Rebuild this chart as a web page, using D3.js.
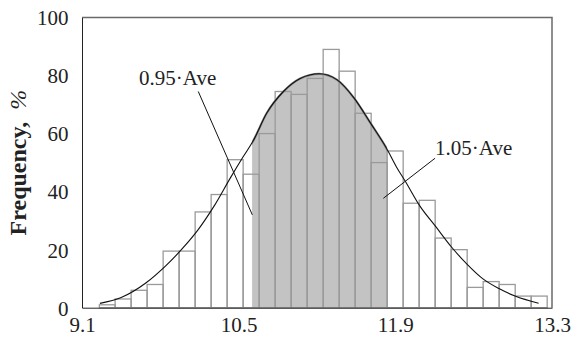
<!DOCTYPE html>
<html>
    <head>
        <title></title>
        <script src="https://d3js.org/d3.v7.min.js"></script>
    </head>

    <body style="margin:0; background:#fff">
        <svg id="hist" width="575" height="337"></svg>
    </body>

    <script>

        // bin edges (29 edges -> 28 bars) and frequency of each bin, %
        var binEdges = [9.255, 9.396, 9.539, 9.682, 9.825, 9.968, 10.111, 10.254, 10.397, 10.540,
                        10.683, 10.826, 10.969, 11.112, 11.255, 11.398, 11.541, 11.684, 11.827, 11.970,
                        12.113, 12.256, 12.399, 12.542, 12.685, 12.828, 12.971, 13.114, 13.257]
        var freq = [1, 3, 6, 8, 19.5, 19.5, 33, 39, 51, 46,
                    60, 74.5, 73.5, 79, 89, 81.5, 67, 50, 54, 36,
                    37, 24, 20, 7, 9, 8, 4, 4]

        // fitted curve
        var curveX = [9.26, 9.45, 9.67, 9.85, 10.0, 10.14, 10.28, 10.43, 10.54, 10.63,
                      10.75, 10.9, 11.05, 11.22, 11.38, 11.53, 11.68, 11.82, 11.91, 11.99,
                      12.12, 12.26, 12.4, 12.54, 12.68, 12.83, 12.97, 13.18]
        var curveY = [1.5, 3.5, 8.5, 14.5, 20.5, 27, 35, 45, 52, 57.5,
                      67, 74.5, 79, 80.6, 78.5, 72.3, 63.5, 55, 48.5, 43.5,
                      35, 28, 21, 15, 10, 6.5, 4, 1.5]

        // shaded band 0.95*Ave .. 1.05*Ave
        var shadeRange = [10.62, 11.827]

        var xTicks = [9.1, 10.5, 11.9, 13.3]
        var yTicks = [0, 20, 40, 60, 80, 100]

        // annotations: label, text anchor, line from -> to (data units)
        var notes = [
            {label: "0.95\u00B7Ave", tx: 9.61, ty: 76.8, x1: 10.139, y1: 74.5, x2: 10.622, y2: 32},
            {label: "1.05\u00B7Ave", tx: 12.255, ty: 52.7, x1: 12.255, y1: 51.5, x2: 11.793, y2: 37.7}
        ]

        var serif = "'Liberation Serif', 'Times New Roman', Times, serif"

        var margin = { top: 17.5, bottom: 29.3, left: 82, right: 23 }
        var width = 575 - margin.left - margin.right
        var height = 337 - margin.top - margin.bottom

        var svg = d3.select("#hist")
        .append("g")
        .attr("transform", "translate(" + margin.left + "," + margin.top + ")")

        var x = d3.scaleLinear()
        .domain([9.1, 13.3])
        .range([0, width])

        var y = d3.scaleLinear()
        .domain([0, 100])
        .range([height, 0])

        var bins = freq.map(function(f, i) {
            return {x0: binEdges[i], x1: binEdges[i + 1], f: f}
        })

        // bars with white fill
        svg.selectAll(".bar")
        .data(bins)
        .enter()
        .append("rect")
        .attr("class", "bar")
        .attr("x", function(d) { return x(d.x0) })
        .attr("width", function(d) { return x(d.x1) - x(d.x0) })
        .attr("y", function(d) { return y(d.f) })
        .attr("height", function(d) { return y(0) - y(d.f) })
        .attr("fill", "#fff")

        var pts = curveX.map(function(v, i) { return [v, curveY[i]] })

        // clip for the shaded band
        svg.append("clipPath")
        .attr("id", "band")
        .append("rect")
        .attr("x", x(shadeRange[0]))
        .attr("width", x(shadeRange[1]) - x(shadeRange[0]))
        .attr("y", -5)
        .attr("height", height + 5)

        var area = d3.area()
        .curve(d3.curveMonotoneX)
        .x(function(d) { return x(d[0]) })
        .y0(y(0))
        .y1(function(d) { return y(d[1]) })

        var line = d3.line()
        .curve(d3.curveMonotoneX)
        .x(function(d) { return x(d[0]) })
        .y(function(d) { return y(d[1]) })

        svg.append("path")
        .datum(pts)
        .attr("clip-path", "url(#band)")
        .attr("fill", "#c3c3c3")
        .attr("d", area)

        // bar outlines on top of the shading
        svg.selectAll(".barline")
        .data(bins)
        .enter()
        .append("rect")
        .attr("class", "barline")
        .attr("x", function(d) { return x(d.x0) })
        .attr("width", function(d) { return x(d.x1) - x(d.x0) })
        .attr("y", function(d) { return y(d.f) })
        .attr("height", function(d) { return y(0) - y(d.f) })
        .attr("fill", "none")
        .attr("stroke", "#9a9a9a")
        .attr("stroke-width", 1.3)

        // darker rim of the shaded band
        svg.append("path")
        .datum(pts)
        .attr("clip-path", "url(#band)")
        .attr("fill", "none")
        .attr("stroke", "#858585")
        .attr("stroke-width", 2.2)
        .attr("d", line)

        svg.append("path")
        .datum(pts)
        .attr("fill", "none")
        .attr("stroke", "#111")
        .attr("stroke-width", 1.1)
        .attr("d", line)

        // annotation leaders and labels
        svg.selectAll(".lead")
        .data(notes)
        .enter()
        .append("line")
        .attr("x1", function(d) { return x(d.x1) })
        .attr("y1", function(d) { return y(d.y1) })
        .attr("x2", function(d) { return x(d.x2) })
        .attr("y2", function(d) { return y(d.y2) })
        .attr("stroke", "#111")
        .attr("stroke-width", 1)

        svg.selectAll(".note")
        .data(notes)
        .enter()
        .append("text")
        .attr("x", function(d) { return x(d.tx) })
        .attr("y", function(d) { return y(d.ty) })
        .style("font-family", serif)
        .style("font-size", "21px")
        .attr("fill", "#222")
        .text(function(d) { return d.label })

        // frame: top and right grey, left and bottom dark
        svg.append("path")
        .attr("d", "M0,0H" + width + "V" + height)
        .attr("fill", "none")
        .attr("stroke", "#6a6a6a")
        .attr("stroke-width", 1.5)

        var yAxis = svg.append("g")
        .call(d3.axisLeft(y).tickValues(yTicks).tickSize(0).tickPadding(13.5))
        var xAxis = svg.append("g")
        .attr("transform", "translate(0," + height + ")")
        .call(d3.axisBottom(x).tickValues(xTicks).tickSize(0).tickPadding(6).tickFormat(d3.format(".1f")))

        yAxis.select(".domain").attr("stroke", "#222")
        xAxis.select(".domain").attr("stroke", "#222")
        svg.selectAll(".tick text")
        .style("font-family", serif)
        .style("font-size", "21px")
        .attr("fill", "#222")
        yAxis.selectAll(".tick text").attr("dy", "0.35em")
        xAxis.selectAll(".tick text").attr("dy", "0.86em")

        // y axis title
        var title = d3.select("#hist").append("text")
        .attr("transform", "translate(26," + (margin.top + height / 2) + ") rotate(-90)")
        .attr("text-anchor", "middle")
        .style("font-family", serif)
        .style("font-size", "24px")
        .attr("fill", "#222")
        title.append("tspan").attr("font-weight", "bold").text("Frequency,")
        title.append("tspan").attr("dx", 12).attr("font-style", "italic").text("%")

    </script>
</html>
